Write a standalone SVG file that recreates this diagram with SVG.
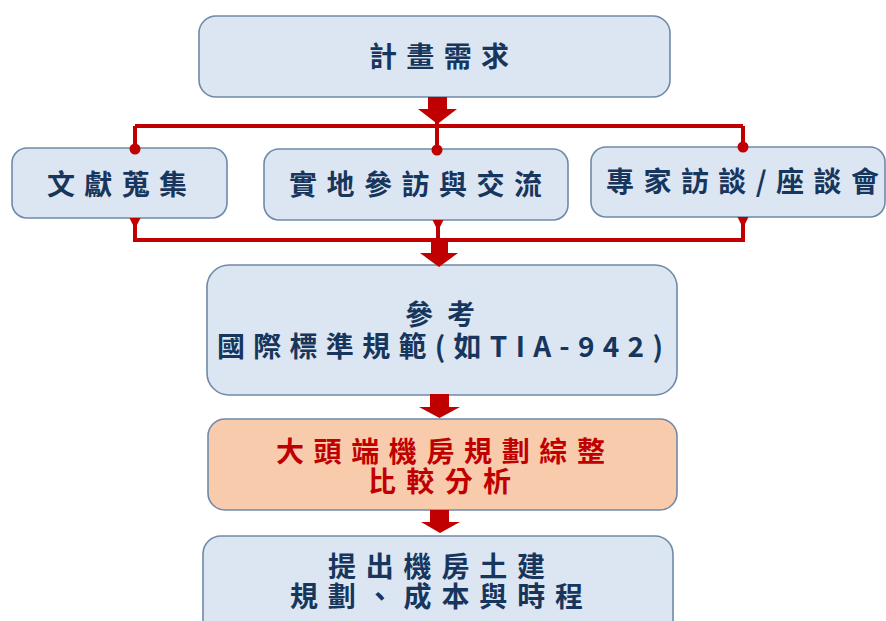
<svg xmlns="http://www.w3.org/2000/svg" width="886" height="621" viewBox="0 0 886 621">
<style>
.box{fill:#dce6f2;stroke:#6f8aa8;stroke-width:1.6}
.hl{fill:#f8cbad;stroke:#6f8aa8;stroke-width:1.6}
.t{font-family:"Noto Sans CJK TC","Noto Sans CJK SC",sans-serif;font-size:28px;font-weight:bold;fill:#17365d;dominant-baseline:central}
.r{fill:#c00000}
.ln{fill:none;stroke:#c00000;stroke-width:4}
.arr{fill:#c00000}
</style>
<defs>
<marker id="dot" markerUnits="userSpaceOnUse" markerWidth="14" markerHeight="14" refX="7" refY="7" viewBox="0 0 14 14" orient="auto">
<circle cx="7" cy="7" r="5.5" fill="#c00000"/>
</marker>
<marker id="flare" markerUnits="userSpaceOnUse" markerWidth="12" markerHeight="14" refX="0" refY="7" viewBox="0 0 12 14" orient="auto">
<path d="M0,1.5 L7,5 L7,9 L0,12.5 Z" fill="#c00000"/>
</marker>
</defs>
<rect width="886" height="621" fill="#ffffff"/>

<g id="n1">
<rect class="box" x="199" y="16" width="471" height="81" rx="17"/>
<text class="t" x="369" y="55" textLength="140" lengthAdjust="spacing">計畫需求</text>
</g>

<g id="n2">
<rect class="box" x="12" y="148" width="215" height="70" rx="15"/>
<text class="t" x="47" y="183" textLength="140" lengthAdjust="spacing">文獻蒐集</text>
</g>

<g id="n3">
<rect class="box" x="264" y="149" width="304" height="71" rx="15"/>
<text class="t" x="289" y="183" textLength="253" lengthAdjust="spacing">實地參訪與交流</text>
</g>

<g id="n4">
<rect class="box" x="591" y="147" width="294" height="70" rx="15"/>
<text class="t" x="606" y="180" textLength="273" lengthAdjust="spacing">專家訪談/座談會</text>
</g>

<g id="n5">
<rect class="box" x="207" y="265" width="470" height="130" rx="22"/>
<text class="t"><tspan x="405" y="313" textLength="70" lengthAdjust="spacing">參考</tspan><tspan x="217" y="345" textLength="446" lengthAdjust="spacing">國際標準規範(如TIA-942)</tspan></text>
</g>

<g id="n6">
<rect class="hl" x="208" y="419" width="469" height="91" rx="17"/>
<text class="t r"><tspan x="276" y="450" textLength="329" lengthAdjust="spacing">大頭端機房規劃綜整</tspan><tspan x="368" y="480" textLength="143" lengthAdjust="spacing">比較分析</tspan></text>
</g>

<g id="n7">
<rect class="box" x="203" y="536" width="470" height="110" rx="18"/>
<text class="t"><tspan x="328" y="565" textLength="217" lengthAdjust="spacing">提出機房土建</tspan><tspan x="290" y="595" textLength="293" lengthAdjust="spacing">規劃、成本與時程</tspan></text>
</g>

<g id="connectors">
<path class="ln" d="M135,126 H743"/>
<path class="ln" d="M135,126 V149" marker-end="url(#dot)"/>
<path class="ln" d="M437,118 V150" marker-end="url(#dot)"/>
<path class="ln" d="M743,126 V147" marker-end="url(#dot)"/>
<path class="ln" d="M135,218 V240" marker-start="url(#flare)"/>
<path class="ln" d="M438,220 V240" marker-start="url(#flare)"/>
<path class="ln" d="M743,217 V240" marker-start="url(#flare)"/>
<path class="ln" d="M133,240 H745"/>
<polygon class="arr" points="428,97 447,97 447,109 457,109 437.5,124 418,109 428,109"/>
<polygon class="arr" points="431,240 448,240 448,253 458,253 439,267 420,253 431,253"/>
<polygon class="arr" points="430,394 449,394 449,407 460,407 439.5,418 419,407 430,407"/>
<polygon class="arr" points="430,510 449,510 449,522 460,522 440,533 421,522 430,522"/>
</g>
</svg>
